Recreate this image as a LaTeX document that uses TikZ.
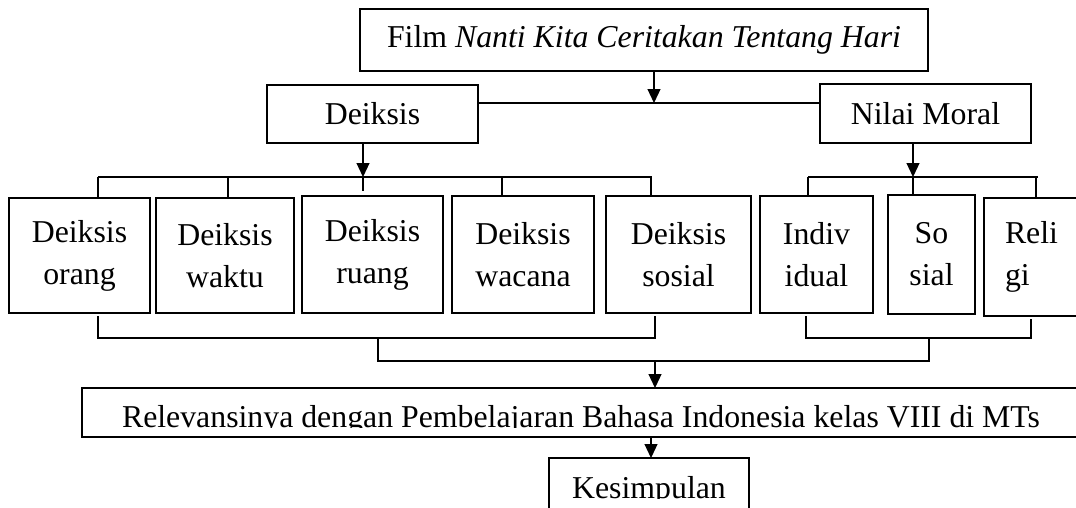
\documentclass[tikz,border=0pt]{standalone}
\usepackage{fontspec}
\setmainfont{Liberation Serif}
\usetikzlibrary{arrows.meta}
\tikzset{
  box/.style={draw, line width=1.6pt, inner sep=0pt, outer sep=0pt, align=center,
    font=\fontsize{31.8}{42}\selectfont},
  thinbox/.style={box, line width=1.1pt},
  txt/.style={inner sep=0pt, outer sep=0pt, anchor=base, font=\fontsize{31.8}{42}\selectfont},
  conn/.style={line width=1.2pt},
  arr/.style={conn, -{Triangle[length=14pt,width=13pt]}},
}
\newcommand{\bx}[7][box]{%
  \node[#1, minimum width={#5-#3}, minimum height={#6-#4}] (#2) at ({(#3+#5)/2},{(#4+#6)/2}) {#7};}
\begin{document}
\begin{tikzpicture}[x=1pt, y=-1pt]
\useasboundingbox (0,0) rectangle (1076,507);
\clip (0,0) rectangle (1076,507);
% boxes
\bx[thinbox]{title}{360}{9}{928}{71}{Film \textit{Nanti Kita Ceritakan Tentang Hari}}
\bx{deiksis}{267}{85}{478}{143}{Deiksis}
\bx{nilai}{820}{84}{1031}{143}{Nilai Moral}
\bx{b1}{9}{198}{150}{313}{Deiksis\\orang}
\bx{b2}{156}{198}{294}{313}{Deiksis\\waktu}
\bx{b3}{302}{196}{443}{313}{Deiksis\\ruang}
\bx{b4}{452}{196}{594}{313}{Deiksis\\wacana}
\bx{b5}{606}{196}{751}{313}{Deiksis\\sosial}
\bx{indiv}{760}{196}{873}{313}{Indiv\\idual}
\bx{sosial}{888}{195}{975}{314}{So\\sial}
\node[box, align=left, minimum width=106, minimum height=118, anchor=north west, text width=64pt, inner xsep=21pt] (religi) at (984,198) {Reli\\gi};
\bx[thinbox]{rel}{82}{388}{1080}{437}{}
\bx[thinbox]{kes}{549}{458}{749}{515}{}
\begin{scope}
  \clip (82,388) rectangle (1080,427.5);
  \node[txt] (reltext) at (581,427) {Relevansinya dengan Pembelajaran Bahasa Indonesia kelas VIII di MTs};
\end{scope}
\begin{scope}
  \clip (549,458) rectangle (749,498);
  \node[txt] (kestext) at (649,498) {Kesimpulan};
\end{scope}
% level 1 connectors
\coordinate (j1) at (654,103);
\draw[arr] (title.south -| j1) -- (j1);
\draw[conn] (deiksis.east |- j1) -- (nilai.west |- j1);
% deiksis group
\coordinate (j2) at (363,177);
\draw[arr] (deiksis.south -| j2) -- (j2);
\draw[conn] (j2) -- ++(0,14);
\draw[conn] (98,177) -- (652,177);
\coordinate (t1) at (98,177);
\coordinate (t2) at (228,177);
\coordinate (t4) at (502,177);
\coordinate (t5) at (651,177);
\draw[conn] (t1) -- (t1 |- b1.north);
\draw[conn] (t2) -- (t2 |- b2.north);
\draw[conn] (t4) -- (t4 |- b4.north);
\draw[conn] (t5) -- (t5 |- b5.north);
% nilai group
\coordinate (j3) at (913,177);
\draw[arr] (nilai.south -| j3) -- (j3);
\draw[conn] (808,177) -- (1038,177);
\coordinate (s1) at (808,177);
\coordinate (s3) at (1036,177);
\draw[conn] (s1) -- (s1 |- indiv.north);
\draw[conn] (j3) -- (j3 |- sosial.north);
\draw[conn] (s3) -- (s3 |- religi.north);
% bottom brackets
\coordinate (L1) at (98,338);
\coordinate (L2) at (655,338);
\coordinate (R1) at (806,338);
\coordinate (R2) at (1031,338);
\draw[conn, shorten <=3pt, shorten >=3pt] (b1.south -| L1) -- (L1) -- (L2) -- (b5.south -| L2);
\draw[conn, shorten <=3pt, shorten >=3pt] (indiv.south -| R1) -- (R1) -- (R2) -- (religi.south -| R2);
\coordinate (M1) at (378,338);
\coordinate (M2) at (929,338);
\coordinate (M3) at (378,361);
\coordinate (M4) at (929,361);
\draw[conn] (M1) -- (M3) -- (M4) -- (M2);
\coordinate (j4) at (655,361);
\draw[arr] (j4) -- (rel.north -| j4);
\coordinate (j5) at (651,437);
\draw[arr] (rel.south -| j5) -- (kes.north -| j5);
\end{tikzpicture}
\end{document}
